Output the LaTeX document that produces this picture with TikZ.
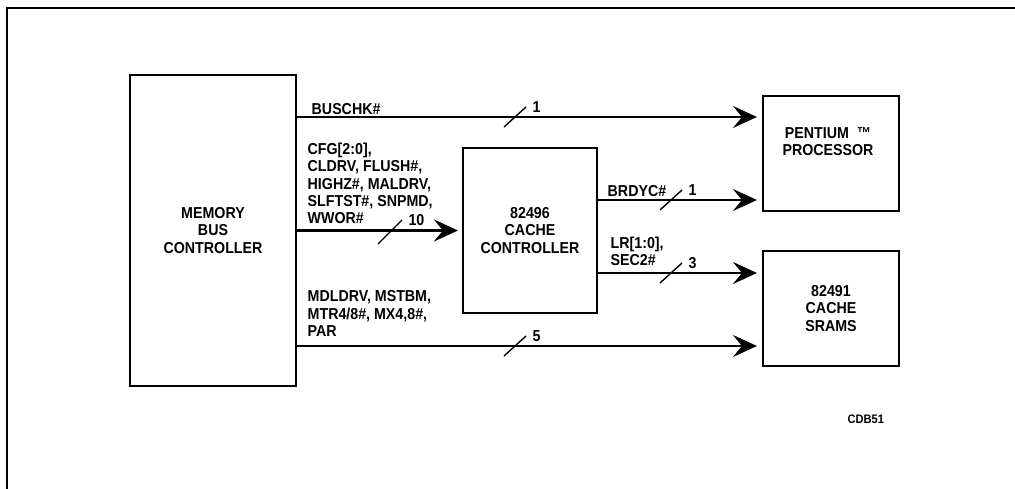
\documentclass[tikz,border=0pt]{standalone}
\usepackage{fontspec}
\setmainfont{Liberation Sans}[FakeStretch=0.9]
\usetikzlibrary{arrows.meta}

\begin{document}
\begin{tikzpicture}[x=0.02cm, y=0.02cm, >={Stealth[length=0.48cm, width=0.44cm, inset=0.18cm]}, thick,
  font=\fontsize{9}{9.92}\selectfont\bfseries,
  blk/.style={draw, very thick, align=center, inner sep=0},
  sig/.style={anchor=north west, align=left, inner sep=0}]
\useasboundingbox (0,0) rectangle (1015,-489);
\draw (7,-489) -- (7,-8) -- (1015,-8);

% blocks
\node[blk, minimum width=3.32cm, minimum height=6.22cm] (mbc) at (213,-230.5) {MEMORY\\BUS\\CONTROLLER};
\node[blk, minimum width=2.68cm, minimum height=3.3cm] (cc) at (530,-230.5) {82496\\CACHE\\CONTROLLER};
\node[blk, minimum width=2.72cm, minimum height=2.3cm] (cpu) at (831,-153.5) {};
\node[align=center, inner sep=0] (cpulbl) at (828,-141.5) {PENTIUM\ \ ™\\PROCESSOR};
\node[blk, minimum width=2.72cm, minimum height=2.3cm] (sram) at (831,-308.5) {82491\\CACHE\\SRAMS};

% signals
\draw[->, shorten >=0.1cm] (mbc.east |- 0,-117) -- (cpu.west |- 0,-117);
\draw[->, ultra thick, shorten >=0.08cm] (mbc.east |- cc.west) -- (cc.west);
\draw[->, shorten >=0.1cm] (cc.east |- 0,-200) -- (cpu.west |- 0,-200);
\draw[->, shorten >=0.1cm] (cc.east |- 0,-273) -- (sram.west |- 0,-273);
\draw[->, shorten >=0.1cm] (mbc.east |- 0,-346) -- (sram.west |- 0,-346);

\node[sig] (buschk) at (311,-103) {BUSCHK\#};
\node[sig] (cfg) at (307,-142) {CFG[2:0],\\CLDRV, FLUSH\#,\\HIGHZ\#, MALDRV,\\SLFTST\#, SNPMD,\\WWOR\#};
\node[sig] (mdl) at (307,-290) {MDLDRV, MSTBM,\\MTR4/8\#, MX4,8\#,\\PAR};
\node[sig] (brdyc) at (607,-185) {BRDYC\#};
\node[sig] (lr) at (610,-236) {LR[1:0],\\SEC2\#};

% bus widths
\draw (515,-117) ++(-11,-10) -- ++(22,20) node[right] (w1) {1};
\draw (390,-232) ++(-12,-12) -- ++(24,24) node[right] (w10) {10};
\draw (671,-200) ++(-11,-10) -- ++(22,20) node[right] (w2) {1};
\draw (671,-273) ++(-11,-10) -- ++(22,20) node[right] (w3) {3};
\draw (515,-346) ++(-11,-10) -- ++(22,20) node[right] (w5) {5};

\node[font=\fontsize{7}{8}\selectfont\bfseries, anchor=north west, inner sep=0] (cdb) at (847,-414) {CDB51};
\end{tikzpicture}
\end{document}
